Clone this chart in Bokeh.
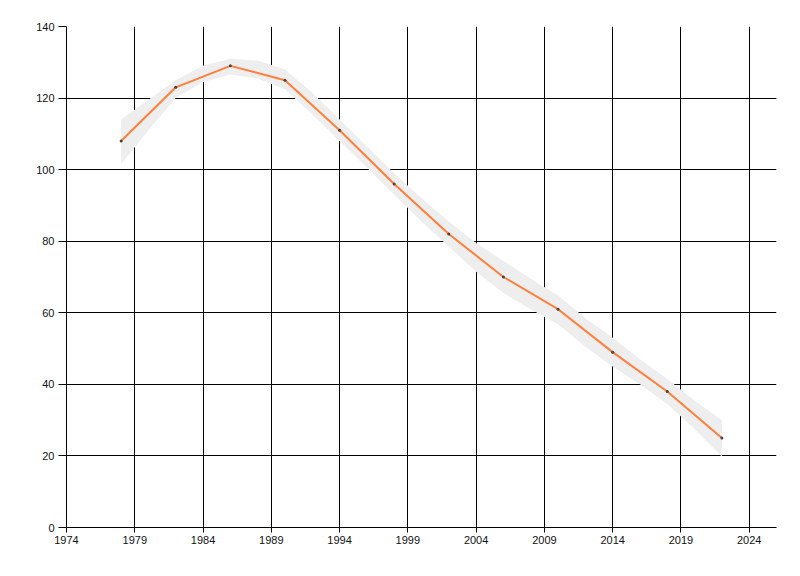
from bokeh.plotting import figure
from bokeh.models import Range1d, FixedTicker, ColumnDataSource
from bokeh.embed import file_html
from bokeh.resources import INLINE

years = [1978, 1982, 1986, 1990, 1994, 1998, 2002, 2006, 2010, 2014, 2018, 2022]
values = [108, 123, 129, 125, 111, 96, 82, 70, 61, 49, 38, 25]

band_years = [1978, 1980, 1982, 1984, 1986, 1988, 1990, 1992, 1994, 1996, 1998, 2000,
              2002, 2004, 2006, 2008, 2010, 2012, 2014, 2016, 2018, 2020, 2022]
band_upper = [114, 119.5, 125, 129, 131, 130.5, 128, 121.5, 114, 106.5, 99, 92,
              85.5, 79.5, 74.5, 69.5, 64.8, 58.5, 53, 47, 41.5, 35.5, 30]
band_lower = [101.5, 111, 120, 124.5, 126.6, 125.5, 122.5, 115.5, 108, 100.5, 93, 85.5,
              78.5, 71.5, 65.5, 61, 56.8, 50.5, 45, 40, 34.5, 27.5, 19.8]

x_ticks = [1974, 1979, 1984, 1989, 1994, 1999, 2004, 2009, 2014, 2019, 2024]
y_ticks = [0, 20, 40, 60, 80, 100, 120, 140]

src = ColumnDataSource(dict(x=years, y=values))
band = ColumnDataSource(dict(x=band_years, up=band_upper, lo=band_lower))

p = figure(width=792, height=568, output_backend="svg", toolbar_location=None,
           x_range=Range1d(1974, 2026), y_range=Range1d(0, 140),
           min_border_left=66, min_border_top=26, min_border_right=16, min_border_bottom=41)
p.outline_line_color = None
p.background_fill_color = "white"
p.border_fill_color = "white"

for ax in (p.xaxis[0], p.yaxis[0]):
    ax.axis_line_color = "black"
    ax.major_tick_line_color = "black"
    ax.minor_tick_line_color = None
    ax.major_label_text_font = "Liberation Sans"
    ax.major_label_text_font_size = "11px"
    ax.major_label_text_color = "#111111"
    ax.major_tick_in = 0

p.xaxis.ticker = FixedTicker(ticks=x_ticks)
p.yaxis.ticker = FixedTicker(ticks=y_ticks)
p.xaxis.major_tick_out = 5
p.yaxis.major_tick_out = 8
p.xaxis.major_label_standoff = 3
p.yaxis.major_label_standoff = 4

p.xgrid.ticker = FixedTicker(ticks=x_ticks)
p.ygrid.ticker = FixedTicker(ticks=y_ticks)
p.grid.grid_line_color = "black"
p.grid.grid_line_width = 1
p.grid.grid_line_alpha = 1

p.varea(x="x", y1="lo", y2="up", source=band, fill_color="#eeeeee")
p.line(x="x", y="y", source=src, line_color="#ff7f3a", line_width=2)
p.scatter(x="x", y="y", source=src, size=3, fill_color="#444444", line_color=None)

open("out.html", "w").write(file_html(p, INLINE))
